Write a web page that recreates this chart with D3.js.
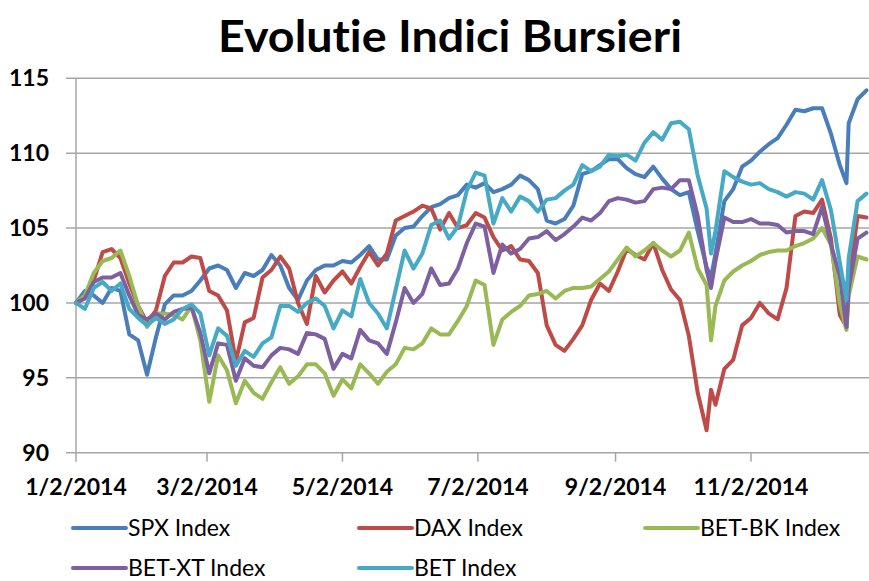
<!DOCTYPE html>
<meta charset="utf-8">
<script src="https://d3js.org/d3.v7.min.js"></script>
<style>
  body { margin: 0; background: #fff; }
  text { font-family: Lato, "Open Sans", sans-serif; font-variant-ligatures: none; }
</style>
<div id="chart"></div>
<script>
// trading dates (shared by all series)
var dates = [
  "2014-01-02","2014-01-06","2014-01-10","2014-01-14","2014-01-18","2014-01-22","2014-01-26","2014-01-30",
  "2014-02-03","2014-02-07","2014-02-11","2014-02-15","2014-02-19","2014-02-23","2014-02-27","2014-03-03",
  "2014-03-07","2014-03-11","2014-03-15","2014-03-19","2014-03-23","2014-03-27","2014-03-31","2014-04-04",
  "2014-04-08","2014-04-12","2014-04-16","2014-04-20","2014-04-24","2014-04-28","2014-05-02","2014-05-06",
  "2014-05-10","2014-05-14","2014-05-18","2014-05-22","2014-05-26","2014-05-30","2014-06-03","2014-06-07",
  "2014-06-11","2014-06-15","2014-06-19","2014-06-23","2014-06-27","2014-07-01","2014-07-05","2014-07-09",
  "2014-07-13","2014-07-17","2014-07-21","2014-07-25","2014-07-29","2014-08-02","2014-08-06","2014-08-10",
  "2014-08-14","2014-08-18","2014-08-22","2014-08-26","2014-08-30","2014-09-03","2014-09-07","2014-09-11",
  "2014-09-15","2014-09-19","2014-09-23","2014-09-27","2014-10-01","2014-10-05","2014-10-09","2014-10-13",
  "2014-10-15","2014-10-17","2014-10-21","2014-10-25","2014-10-29","2014-11-02","2014-11-06","2014-11-10",
  "2014-11-14","2014-11-18","2014-11-22","2014-11-26","2014-11-30","2014-12-04","2014-12-08","2014-12-12",
  "2014-12-15","2014-12-16","2014-12-20","2014-12-24"
];

var spx = [
  100, 100.8, 100.5, 100, 101, 100.8, 97.9, 97.5, 95.2, 97.7, 99.9, 100.5,
  100.5, 100.8, 101.5, 102.3, 102.5, 102.2, 101, 102, 101.8, 102.2, 103.2, 102.5,
  101, 100.2, 101.5, 102.2, 102.5, 102.5, 102.8, 102.7, 103.2, 103.8, 102.9,
  102.9, 104.5, 105, 105.1, 105.8, 106.4, 106.6, 107, 107.2, 107.9, 107.7,
  108, 107.4, 107.6, 107.9, 108.5, 108.2, 107.6, 105.5, 105.3, 105.6, 106.5,
  108.6, 108.8, 109.2, 109.6, 109.6, 109, 108.6, 108.4, 109.1, 108.3, 107.6, 107.2,
  107.4, 104.8, 102.4, 101.7, 103.3,
  106.8, 107.6, 109.1, 109.5, 110.1, 110.6, 111,
  111.9, 112.9, 112.8, 113, 113, 111.3, 109.2,
  108, 112, 113.6, 114.2
];

var dax = [
  100, 100.4, 101.5, 103.4, 103.6, 103, 101.3, 99.8, 98.7, 99.5, 101.8, 102.7,
  102.7, 103.1, 103, 100.8, 100.5, 99.5, 96.1, 98.7, 99, 101.7, 102.2, 103.1,
  102.3, 100, 98.6, 101.8, 100.7, 101.5, 102.1, 101.3, 102.4, 103.4, 102.5,
  103.3, 105.5, 105.8, 106.1, 106.5, 106.3, 104.9, 106, 105, 105.2, 106,
  105.7, 104.4, 103.5, 103.8, 102.9, 102.8, 102, 98.5, 97.2, 96.8, 97.6,
  98.5, 100.2, 101.3, 100.8, 102.1, 103.6, 103.2, 102.9, 104, 102.2, 100.9, 100.2,
  97.8, 94, 91.5, 94.2, 93.2,
  95.6, 96.2, 98.5, 99, 100, 99.3, 98.9,
  101, 105.8, 106.1, 106, 106.9, 104.3, 99.2,
  98.4, 101.3, 105.8, 105.7
];

var betbk = [
  100, 100.5, 102, 102.8, 103, 103.5, 101.8, 99.8, 98.4, 99.3, 99.3, 99.2,
  98.9, 99.8, 97.5, 93.4, 96.5, 95.5, 93.3, 94.8, 94, 93.6, 94.7, 95.7,
  94.6, 95.1, 95.9, 95.9, 95.3, 93.8, 94.9, 94.3, 95.9, 95.3, 94.6,
  95.4, 95.9, 97, 96.9, 97.3, 98.3, 97.9, 97.9, 98.8, 99.8, 101.5,
  101.2, 97.2, 98.9, 99.4, 99.8, 100.5, 100.6, 100.8, 100.3, 100.8, 101,
  101, 101.1, 101.6, 102.1, 102.9, 103.7, 103.1, 103.5, 104, 103.5, 103.1, 103.5,
  104.7, 102.3, 101.2, 97.5, 99.8,
  101.5, 102.1, 102.5, 102.8, 103.2, 103.4, 103.5,
  103.5, 103.8, 104, 104.3, 105, 103.9, 99.9,
  98.2, 100.5, 103.1, 102.9
];

var betxt = [
  100, 100.3, 101.4, 101.7, 101.7, 102, 100.5, 99.2, 98.9, 99.3, 98.9, 99.4,
  99.6, 99.7, 98, 95.3, 97.3, 97.2, 94.8, 96.3, 95.8, 95.7, 96.5, 97,
  96.9, 96.6, 98, 97.9, 97.6, 95.6, 96.6, 96.3, 98.2, 97.5, 97.3,
  96.6, 98.7, 101, 100, 100.6, 102.3, 101.2, 101.3, 102.3, 104, 105.3,
  105.1, 102, 103.9, 103.3, 103.6, 104.3, 104.4, 104.8, 104.2, 104.6, 105.1,
  105.7, 105.5, 106, 106.8, 107, 106.9, 106.7, 106.8, 107.6, 107.7, 107.6, 108.2,
  108.2, 105.8, 102.2, 101, 102.8,
  105.7, 105.4, 105.4, 105.6, 105.3, 105.3, 105.2,
  104.7, 104.8, 104.8, 104.6, 106.4, 103.9, 101.8,
  98.4, 101, 104.3, 104.7
];

var bet = [
  100, 99.6, 101, 101.4, 100.8, 101.3, 99.6, 99, 98.5, 99, 98.6, 98.9,
  99.6, 99.9, 99.3, 96.5, 98.3, 97.8, 95.8, 96.8, 96.4, 97.3, 97.7, 99.8,
  99.8, 99.4, 100, 100.3, 99.8, 98.3, 99.5, 99.1, 101.6, 100, 99.3,
  98.3, 100.9, 103.5, 102.3, 103.3, 105.2, 105.5, 104.3, 105.1, 107.5, 108.7,
  108.5, 105.3, 107, 106.1, 107.1, 106.8, 106.1, 106.9, 107, 107.5, 107.9,
  109.2, 108.8, 109.1, 109.9, 109.8, 109.9, 109.5, 110.7, 111.4, 110.9, 112, 112.1,
  111.6, 108.5, 106.3, 103.3, 104.8,
  108.8, 108.4, 108.1, 107.9, 108, 107.6, 107.4,
  107.1, 107.4, 107.3, 106.9, 108.2, 106.2, 102.7,
  100.2, 103, 106.8, 107.3
];

var seriesNames = ["SPX Index", "DAX Index", "BET-BK Index", "BET-XT Index", "BET Index"];
var seriesValues = [spx, dax, betbk, betxt, bet];
var seriesColors = ["#4a7ebb", "#be4b48", "#98b954", "#7d60a0", "#46aac5"];
var yTicks = [90, 95, 100, 105, 110, 115];
var xTickDates = ["2014-01-02", "2014-03-02", "2014-05-02", "2014-07-02", "2014-09-02", "2014-11-02"];

var W = 869, H = 581;
var parse = d3.timeParse("%Y-%m-%d");
var fmt = d3.timeFormat("%-m/%-d/%Y");

var svg = d3.select("#chart").append("svg")
    .attr("width", W)
    .attr("height", H);

var x = d3.scaleTime()
    .domain([parse("2014-01-02"), parse("2014-12-31")])
    .range([76, 882]);

var y = d3.scaleLinear()
    .domain([90, 115])
    .range([452.7, 78.3]);

// title
svg.append("text")
    .attr("x", 450)
    .attr("y", 52)
    .attr("text-anchor", "middle")
    .attr("textLength", 464)
    .attr("lengthAdjust", "spacingAndGlyphs")
    .style("font-size", "43px")
    .style("font-weight", "bold")
    .text("Evolutie Indici Bursieri");

// horizontal gridlines + y tick marks
svg.selectAll(".grid")
  .data(yTicks)
  .enter().append("line")
    .attr("class", "grid")
    .attr("x1", 66)
    .attr("x2", W)
    .attr("y1", function(d) { return y(d); })
    .attr("y2", function(d) { return y(d); })
    .attr("stroke", "#a6a6a6")
    .attr("stroke-width", 1.5);

// y labels
svg.selectAll(".ylab")
  .data(yTicks)
  .enter().append("text")
    .attr("class", "ylab")
    .attr("x", 49)
    .attr("y", function(d) { return y(d); })
    .attr("dy", "0.35em")
    .attr("text-anchor", "end")
    .style("font-size", "23px")
    .style("font-weight", "bold")
    .text(function(d) { return d; });

// vertical axis line
svg.append("line")
    .attr("x1", 76).attr("x2", 76)
    .attr("y1", y(115)).attr("y2", y(90))
    .attr("stroke", "#a6a6a6")
    .attr("stroke-width", 1.5);

// x ticks
svg.selectAll(".xtick")
  .data(xTickDates)
  .enter().append("line")
    .attr("class", "xtick")
    .attr("x1", function(d) { return x(parse(d)); })
    .attr("x2", function(d) { return x(parse(d)); })
    .attr("y1", y(90))
    .attr("y2", y(90) + 9)
    .attr("stroke", "#a6a6a6")
    .attr("stroke-width", 1.5);

svg.selectAll(".xlab")
  .data(xTickDates)
  .enter().append("text")
    .attr("class", "xlab")
    .attr("x", function(d) { return x(parse(d)); })
    .attr("y", 495)
    .attr("text-anchor", "middle")
    .style("font-size", "23px")
    .style("font-weight", "bold")
    .text(function(d) { return fmt(parse(d)); });

// lines
var line = d3.line()
    .x(function(d, i) { return x(parse(dates[i])); })
    .y(function(d) { return y(d); });

svg.selectAll(".series")
  .data(seriesValues)
  .enter().append("path")
    .attr("class", "series")
    .attr("d", function(d) { return line(d); })
    .attr("fill", "none")
    .attr("stroke", function(d, i) { return seriesColors[i]; })
    .attr("stroke-width", 4)
    .attr("stroke-linejoin", "round")
    .attr("stroke-linecap", "round");

// legend
var legendPos = [[73, 528], [359, 528], [645, 528], [73, 568], [359, 568]];
var leg = svg.selectAll(".leg")
  .data(seriesNames)
  .enter().append("g")
    .attr("class", "leg")
    .attr("transform", function(d, i) { return "translate(" + legendPos[i][0] + "," + legendPos[i][1] + ")"; });

leg.append("line")
    .attr("x1", 0).attr("x2", 53)
    .attr("stroke", function(d, i) { return seriesColors[i]; })
    .attr("stroke-width", 4)
    .attr("stroke-linecap", "round");

leg.append("text")
    .attr("x", 55)
    .attr("dy", "0.34em")
    .style("font-size", "23px")
    .text(function(d) { return d; });
</script>
